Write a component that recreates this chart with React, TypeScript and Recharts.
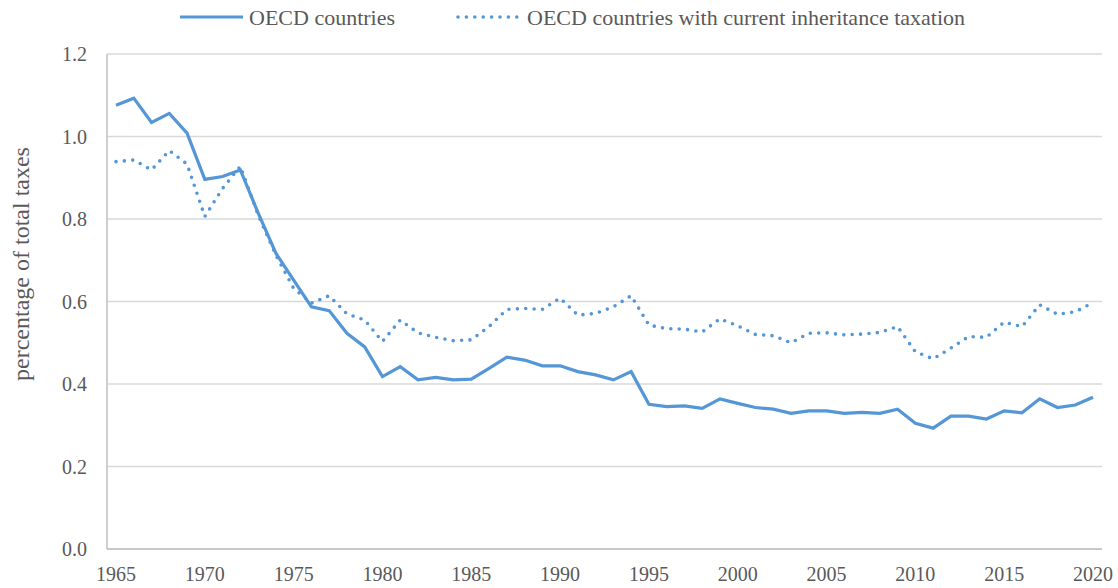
import React from 'react';
import { LineChart, Line, XAxis, YAxis, CartesianGrid } from 'recharts';

const years = [
  1965, 1966, 1967, 1968, 1969, 1970, 1971, 1972, 1973, 1974, 1975, 1976, 1977, 1978,
  1979, 1980, 1981, 1982, 1983, 1984, 1985, 1986, 1987, 1988, 1989, 1990, 1991, 1992,
  1993, 1994, 1995, 1996, 1997, 1998, 1999, 2000, 2001, 2002, 2003, 2004, 2005, 2006,
  2007, 2008, 2009, 2010, 2011, 2012, 2013, 2014, 2015, 2016, 2017, 2018, 2019, 2020,
];

const oecd = [
  1.076, 1.093, 1.034, 1.056, 1.008, 0.896, 0.903, 0.919, 0.815, 0.717, 0.652, 0.587, 0.578, 0.523,
  0.49, 0.418, 0.442, 0.41, 0.416, 0.41, 0.412, 0.438, 0.465, 0.458, 0.444, 0.444, 0.43, 0.422,
  0.41, 0.43, 0.351, 0.345, 0.347, 0.341, 0.364, 0.353, 0.343, 0.339, 0.329, 0.335, 0.335, 0.329,
  0.331, 0.329, 0.339, 0.305, 0.293, 0.322, 0.322, 0.315, 0.335, 0.33, 0.364, 0.343, 0.349, 0.368,
];

const oecdInheritance = [
  0.939, 0.943, 0.919, 0.966, 0.933, 0.806, 0.874, 0.928, 0.81, 0.712, 0.632, 0.596, 0.614, 0.57,
  0.555, 0.503, 0.555, 0.524, 0.513, 0.505, 0.507, 0.539, 0.581, 0.583, 0.581, 0.608, 0.567, 0.571,
  0.587, 0.614, 0.543, 0.534, 0.533, 0.526, 0.558, 0.541, 0.52, 0.517, 0.5, 0.523, 0.524, 0.519,
  0.521, 0.525, 0.539, 0.478, 0.461, 0.487, 0.515, 0.513, 0.55, 0.539, 0.592, 0.569, 0.575, 0.597,
];

const yTicks = [0, 0.2, 0.4, 0.6, 0.8, 1.0, 1.2];

const data = years.map((y, i) => ({ year: y, oecd: oecd[i], inh: oecdInheritance[i] }));

const BLUE = '#5496d6';
const TEXT = '#595959';
const FONT = '"Liberation Serif", "Times New Roman", serif';

const YLabel = () => (
  <text
    x={21}
    y={264}
    transform="rotate(-90 21 264)"
    textAnchor="middle"
    dominantBaseline="central"
    fill={TEXT}
    fontSize={24}
    fontFamily={FONT}
  >
    percentage of total taxes
  </text>
);

export default function App() {
  return (
    <div style={{ position: 'absolute', left: 0, top: 0, width: 1118, height: 588, background: '#fff', fontFamily: FONT }}>
      <svg width={1118} height={40} style={{ position: 'absolute', left: 0, top: 0 }}>
        <line x1={180} y1={17} x2={243} y2={17} stroke={BLUE} strokeWidth={3.2} />
        <line x1={458} y1={17} x2={518} y2={17} stroke={BLUE} strokeWidth={3.6} strokeDasharray="0 8.4" strokeLinecap="round" />
        <text x={249} y={17} dominantBaseline="central" fill={TEXT} fontSize={22} fontFamily={FONT}>OECD countries</text>
        <text x={527} y={17} dominantBaseline="central" fill={TEXT} fontSize={22} fontFamily={FONT}>
          OECD countries with current inheritance taxation
        </text>
      </svg>
      <LineChart
        width={1118}
        height={588}
        data={data}
        margin={{ top: 54, right: 16, bottom: 0, left: 0 }}
      >
        <CartesianGrid vertical={false} stroke="#d9d9d9" strokeWidth={1.5} />
        <XAxis
          dataKey="year"
          interval={4}
          padding={{ left: 9, right: 9 }}
          tickLine={false}
          axisLine={{ stroke: '#bfbfbf', strokeWidth: 1.5 }}
          tick={{ fill: TEXT, fontSize: 20, fontFamily: FONT }}
          tickMargin={12}
          height={39}
        />
        <YAxis
          domain={[0, 1.2]}
          ticks={yTicks}
          tickFormatter={(v: number) => v.toFixed(1)}
          tickLine={false}
          axisLine={{ stroke: '#bfbfbf', strokeWidth: 1.5 }}
          tick={{ fill: TEXT, fontSize: 20, fontFamily: FONT }}
          tickMargin={14}
          width={107}
          label={<YLabel />}
        />
        <Line
          type="linear"
          dataKey="oecd"
          stroke={BLUE}
          strokeWidth={3.2}
          dot={false}
          isAnimationActive={false}
        />
        <Line
          type="linear"
          dataKey="inh"
          stroke={BLUE}
          strokeWidth={3.6}
          strokeDasharray="0 8.4"
          strokeLinecap="round"
          dot={false}
          isAnimationActive={false}
        />
      </LineChart>
    </div>
  );
}
